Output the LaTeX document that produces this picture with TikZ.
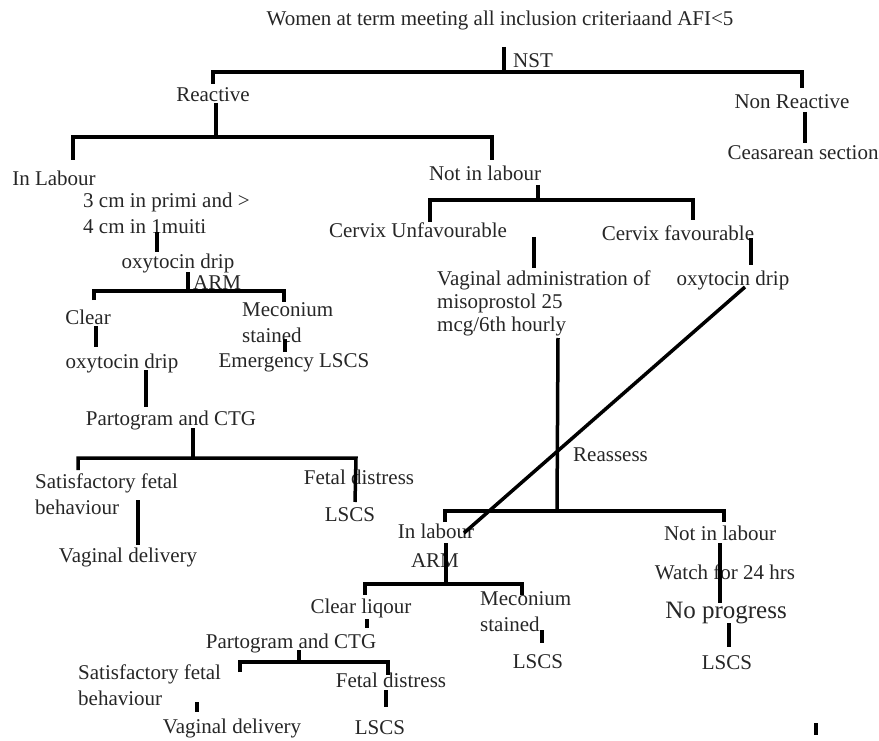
\documentclass[tikz,border=0pt]{standalone}
\usepackage{fontspec}
\setmainfont{Liberation Serif}
\usetikzlibrary{positioning}
\begin{document}
\begin{tikzpicture}[x=1pt,y=-1pt,
    txt/.style={inner sep=0pt,text=black!85,font=\fontsize{21}{26}\selectfont},
    big/.style={inner sep=0pt,text=black!85,font=\fontsize{25}{28}\selectfont},
    line/.style={line width=3.5pt,line join=miter}]
    \useasboundingbox (0,0) rectangle (879,741);

    % texts
    \node[txt] (title) at (500,20) {Women at term meeting all inclusion criteriaand AFI<5};
    \node[txt,anchor=west] (nst) at (513,61) {NST};
    \node[txt] (reactive) at (213,95) {Reactive};
    \node[txt] (nonReact) at (792,102) {Non Reactive};
    \node[txt] (caesar) at (803,153) {Ceasarean section};
    \node[txt] (inLabour) at (54,178) {In Labour};
    \node[txt,anchor=west,align=left] (crit) at (83,213) {3 cm in primi and >\\4 cm in 1muiti};
    \node[txt] (oxyA) at (178,263) {oxytocin drip};
    \node[txt,anchor=west] (armA) at (193,283) {ARM};
    \node[txt] (clearA) at (88,317) {Clear};
    \node[txt,anchor=west,align=left] (meconA) at (242,323) {Meconium\\stained};
    \node[txt] (oxyB) at (122,363) {oxytocin drip};
    \node[txt] (emergA) at (294,363) {Emergency LSCS};
    \node[txt] (partoA) at (171,420) {Partogram and CTG};
    \node[txt,anchor=west,align=left] (satA) at (35,494) {Satisfactory fetal\\behaviour};
    \node[txt] (distressA) at (359,477) {Fetal distress};
    \node[txt] (lscsA) at (350,515) {LSCS};
    \node[txt] (vagA) at (128,557) {Vaginal delivery};

    \node[txt] (notLabour) at (485,173) {Not in labour};
    \node[txt] (cervixU) at (418,230) {Cervix Unfavourable};
    \node[txt] (cervixF) at (678,233) {Cervix favourable};
    \node[txt,anchor=west,align=left,font=\fontsize{21}{23}\selectfont] (miso) at (437,303) {Vaginal administration of\\misoprostol 25\\mcg/6th hourly};
    \node[txt] (oxyC) at (733,280) {oxytocin drip};
    \node[txt,anchor=west] (reassess) at (573,455) {Reassess};

    \node[txt] (inLabourB) at (436,531) {In labour};
    \node[txt] (armB) at (435,561) {ARM};
    \node[txt] (clearB) at (361,608) {Clear liqour};
    \node[txt] (partoB) at (291,643) {Partogram and CTG};
    \node[txt,anchor=west,align=left] (satB) at (78,685) {Satisfactory fetal\\behaviour};
    \node[txt] (distressB) at (391,680) {Fetal distress};
    \node[txt] (vagB) at (232,728) {Vaginal delivery};
    \node[txt] (lscsB) at (380,728) {LSCS};
    \node[txt,anchor=west,align=left] (meconB) at (480,612) {Meconium\\stained};
    \node[txt] (lscsC) at (538,662) {LSCS};
    \node[txt] (notLabourB) at (720,533) {Not in labour};
    \node[txt] (watch) at (725,572) {Watch for 24 hrs};
    \node[big] (noProg) at (726,613) {No progress};
    \node[txt] (lscsD) at (727,663) {LSCS};

    % joints
    \coordinate (nstA) at (504,47);   \coordinate (nstB) at (504,72);
    \coordinate (barTL) at (213,72);  \coordinate (barTR) at (802,72);
    \coordinate (tickTL) at (213,84); \coordinate (tickTR) at (802,88);
    \coordinate (reA) at (216,103);   \coordinate (reB) at (216,137);
    \coordinate (barRL) at (73,137);  \coordinate (barRR) at (492,137);
    \coordinate (tickRL) at (73,160); \coordinate (tickRR) at (492,160);
    \coordinate (nrA) at (805,112);   \coordinate (nrB) at (805,143);
    \coordinate (ilA) at (157,232);   \coordinate (ilB) at (157,252);
    \coordinate (amA) at (188,272);   \coordinate (amB) at (188,291);
    \coordinate (barAL) at (94,291);  \coordinate (barAR) at (284,291);
    \coordinate (tickAL) at (94,300); \coordinate (tickAR) at (284,302);
    \coordinate (clA) at (96,326);    \coordinate (clB) at (96,347);
    \coordinate (mcA) at (285,339);   \coordinate (mcB) at (285,352);
    \coordinate (oxA) at (146,370);   \coordinate (oxB) at (146,407);
    \coordinate (ptA) at (193,428);   \coordinate (ptB) at (193,458);
    \coordinate (barPL) at (78,458);  \coordinate (barPR) at (356,458);
    \coordinate (tickPL) at (78,470); \coordinate (tickPR) at (355,502);
    \coordinate (saA) at (138,500);   \coordinate (saB) at (138,545);

    \coordinate (nlA) at (538,185);   \coordinate (nlB) at (538,200);
    \coordinate (barNL) at (430,200); \coordinate (barNR) at (693,200);
    \coordinate (tickNL) at (430,222);\coordinate (tickNR) at (693,220);
    \coordinate (cuA) at (534,237);   \coordinate (cuB) at (534,268);
    \coordinate (cfA) at (751,238);   \coordinate (cfB) at (751,265);
    \coordinate (msA) at (558,338);   \coordinate (msB) at (557,511);
    \coordinate (oxcA) at (745,287);  \coordinate (oxcB) at (464,533);
    \coordinate (barQL) at (445,511); \coordinate (barQR) at (724,511);
    \coordinate (tickQL) at (445,522);\coordinate (tickQR) at (724,522);
    \coordinate (ibA) at (446,543);   \coordinate (ibB) at (446,584);
    \coordinate (barBL) at (365,584); \coordinate (barBR) at (522,584);
    \coordinate (tickBL) at (365,595);\coordinate (tickBR) at (522,595);
    \coordinate (cbA) at (367,619);   \coordinate (cbB) at (367,628);
    \coordinate (pbA) at (299,650);   \coordinate (pbB) at (299,662);
    \coordinate (barCL) at (240,662); \coordinate (barCR) at (388,662);
    \coordinate (tickCL) at (240,672);\coordinate (tickCR) at (388,675);
    \coordinate (fdA) at (386,690);   \coordinate (fdB) at (386,707);
    \coordinate (sbA) at (197,702);   \coordinate (sbB) at (197,712);
    \coordinate (mbA) at (542,630);   \coordinate (mbB) at (542,643);
    \coordinate (nbA) at (720,543);   \coordinate (nbB) at (720,603);
    \coordinate (npA) at (729,623);   \coordinate (npB) at (729,647);
    \coordinate (strayA) at (816,723);\coordinate (strayB) at (816,735);

    % connectors
    \draw[line] (nstA) -- (nstB);
    \draw[line] (tickTL) -- (barTL) -- (barTR) -- (tickTR);
    \draw[line] (reA) -- (reB);
    \draw[line] (tickRL) -- (barRL) -- (barRR) -- (tickRR);
    \draw[line] (nrA) -- (nrB);
    \draw[line] (ilA) -- (ilB);
    \draw[line] (amA) -- (amB);
    \draw[line] (tickAL) -- (barAL) -- (barAR) -- (tickAR);
    \draw[line] (clA) -- (clB);
    \draw[line] (mcA) -- (mcB);
    \draw[line] (oxA) -- (oxB);
    \draw[line] (ptA) -- (ptB);
    \draw[line] (tickPL) -- (barPL) -- (barPR) -- (tickPR);
    \draw[line] (saA) -- (saB);
    \draw[line] (nlA) -- (nlB);
    \draw[line] (tickNL) -- (barNL) -- (barNR) -- (tickNR);
    \draw[line] (cuA) -- (cuB);
    \draw[line] (cfA) -- (cfB);
    \draw[line] (msA) -- (msB);
    \draw[line] (oxcA) -- (oxcB);
    \draw[line] (tickQL) -- (barQL) -- (barQR) -- (tickQR);
    \draw[line] (ibA) -- (ibB);
    \draw[line] (tickBL) -- (barBL) -- (barBR) -- (tickBR);
    \draw[line] (cbA) -- (cbB);
    \draw[line] (pbA) -- (pbB);
    \draw[line] (tickCL) -- (barCL) -- (barCR) -- (tickCR);
    \draw[line] (fdA) -- (fdB);
    \draw[line] (sbA) -- (sbB);
    \draw[line] (mbA) -- (mbB);
    \draw[line] (nbA) -- (nbB);
    \draw[line] (npA) -- (npB);
    \draw[line] (strayA) -- (strayB);
\end{tikzpicture}
\end{document}
